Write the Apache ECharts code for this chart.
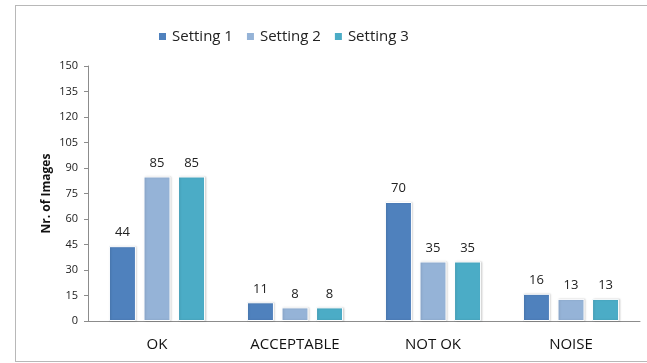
<!DOCTYPE html>
<html>
<head>
<meta charset="utf-8">
<script src="https://cdn.jsdelivr.net/npm/echarts@6/dist/echarts.min.js"></script>
<style>
    html, body { margin: 0; padding: 0; background: #ffffff; }
    .frame {
        position: absolute;
        left: 15px;
        top: 5px;
        width: 640px;
        height: 357px;
        border: 1px solid #b8b8b8;
        box-sizing: border-box;
    }
    #chart { position: absolute; left: 0; top: 0; width: 647px; height: 363px; }
</style>
</head>
<body>
<div class="frame"></div>
<div id="chart"></div>
<script>
// data
const categories = ['OK', 'ACCEPTABLE', 'NOT OK', 'NOISE'];
const setting1 = [44, 11, 70, 16];
const setting2 = [85, 8, 35, 13];
const setting3 = [85, 8, 35, 13];
const seriesNames = ['Setting 1', 'Setting 2', 'Setting 3'];
const colors = ['#4f81bd', '#95b3d7', '#4bacc6'];

const font = 'Open Sans, Liberation Sans, sans-serif';

function makeSeries(name, data, color) {
    return {
        name: name,
        type: 'bar',
        data: data,
        barWidth: 27,
        barGap: '28%',
        itemStyle: {
            color: color,
            borderColor: '#ffffff',
            borderWidth: 1,
            shadowColor: 'rgba(0,0,0,0.15)',
            shadowBlur: 2,
            shadowOffsetX: 1,
        },
        label: {
            show: true,
            position: 'top',
            distance: 7,
            color: '#222',
            fontFamily: font,
            fontSize: 13,
        },
    };
}

const chart = echarts.init(document.getElementById('chart'));
chart.setOption({
    animation: false,
    textStyle: { fontFamily: font },
    legend: {
        top: 24,
        left: 152,
        itemWidth: 9,
        itemHeight: 9,
        itemGap: 12,
        itemTextGap: 4,
        icon: 'rect',
        textStyle: { fontSize: 15, color: '#222', fontFamily: font },
        data: seriesNames,
    },
    grid: { left: 88, top: 66, right: 7, bottom: 42 },
    xAxis: {
        type: 'category',
        data: categories,
        axisLine: { lineStyle: { color: '#8c8c8c' } },
        axisTick: { show: false },
        axisLabel: { color: '#111', fontSize: 15, margin: 16, fontFamily: font },
    },
    yAxis: {
        type: 'value',
        min: 0,
        max: 150,
        interval: 15,
        name: 'Nr. of Images',
        nameLocation: 'middle',
        nameGap: 35,
        nameMoveOverlap: false,
        nameTextStyle: { fontWeight: 'bold', fontSize: 12, color: '#111', fontFamily: font },
        axisLine: { show: true, lineStyle: { color: '#8c8c8c' } },
        axisTick: { show: true, length: 4, lineStyle: { color: '#8c8c8c' } },
        axisLabel: { color: '#222', fontSize: 11, margin: 10, fontFamily: font },
        splitLine: { show: false },
    },
    series: [
        makeSeries(seriesNames[0], setting1, colors[0]),
        makeSeries(seriesNames[1], setting2, colors[1]),
        makeSeries(seriesNames[2], setting3, colors[2]),
    ],
});
</script>
</body>
</html>
